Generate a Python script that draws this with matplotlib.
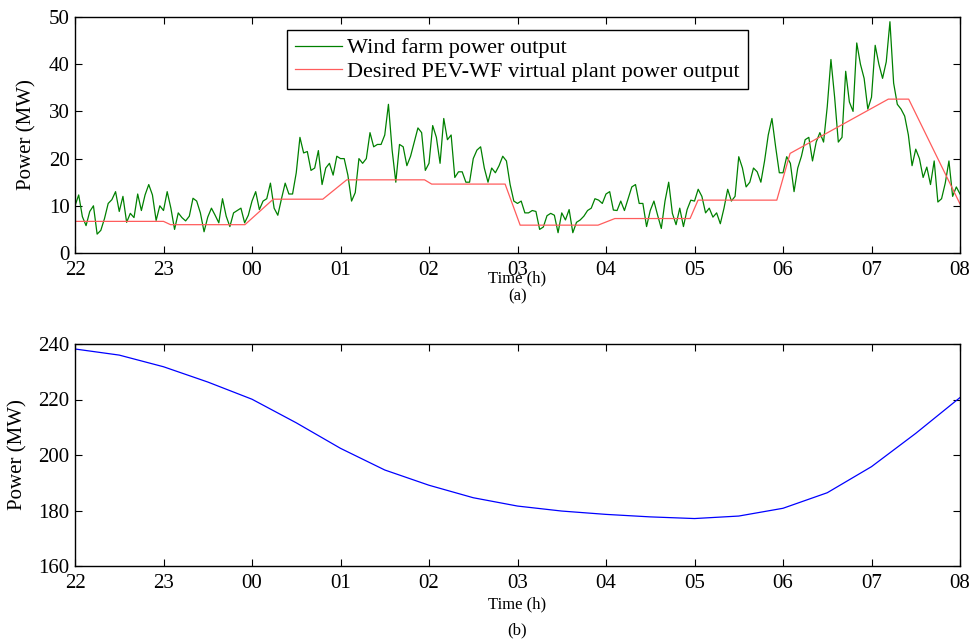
import matplotlib.pyplot as plt
import numpy as np

# wind farm output, one value every 2.5 min from 22:00 to 08:00 (MW)
wind_22 = [10.0, 12.3, 7.7, 5.8, 8.8, 10.0, 4.0, 4.8, 7.3, 10.5, 11.3, 13.0,
           8.8, 12.0, 6.5, 8.4, 7.5, 12.5, 9.0, 12.3, 14.5, 12.3, 6.9, 10.0]
wind_23 = [9.0, 13.0, 9.5, 5.0, 8.5, 7.5, 6.8, 7.8, 11.6, 11.0, 8.5, 4.5,
           7.6, 9.5, 8.0, 6.4, 11.5, 7.8, 5.6, 8.5, 9.0, 9.5, 6.4, 8.0]
wind_00 = [11.0, 13.0, 9.2, 11.0, 11.5, 14.8, 9.5, 8.0, 11.5, 14.8, 12.5, 12.5,
           17.0, 24.5, 21.2, 21.5, 17.5, 18.0, 21.7, 14.5, 18.0, 19.0, 16.5, 20.5]
wind_01 = [20.0, 20.0, 16.5, 11.0, 12.8, 20.0, 19.0, 20.0, 25.5, 22.5, 23.0, 23.0,
           25.0, 31.5, 21.8, 15.0, 23.0, 22.5, 18.5, 20.5, 23.5, 26.5, 25.5, 17.5]
wind_02 = [19.0, 27.0, 24.5, 19.0, 28.5, 24.0, 25.0, 16.0, 17.2, 17.2, 15.0, 15.0,
           20.0, 21.8, 22.5, 18.0, 15.0, 18.0, 17.0, 18.5, 20.5, 19.5, 14.5, 11.0]
wind_03 = [10.5, 11.0, 8.5, 8.5, 9.0, 8.8, 5.0, 5.5, 7.9, 8.4, 8.0, 4.3,
           8.5, 7.0, 9.2, 4.3, 6.5, 7.0, 7.8, 9.0, 9.5, 11.5, 11.2, 10.5]
wind_04 = [12.5, 13.0, 9.1, 9.0, 11.0, 9.0, 11.5, 14.0, 14.5, 10.5, 10.5, 5.6,
           9.0, 11.0, 8.0, 5.2, 11.0, 15.0, 8.4, 6.0, 9.5, 5.6, 9.2, 11.2]
wind_05 = [11.0, 13.5, 12.0, 8.5, 9.5, 7.6, 8.5, 6.2, 9.5, 13.5, 11.0, 12.0,
           20.4, 18.0, 14.0, 15.0, 18.0, 17.2, 15.0, 19.5, 25.0, 28.5, 22.5, 17.0]
wind_06 = [17.0, 20.4, 19.0, 13.0, 18.0, 20.5, 24.0, 24.5, 19.5, 23.5, 25.5, 23.5,
           31.0, 41.0, 33.0, 23.5, 24.5, 38.5, 32.0, 30.0, 44.5, 40.0, 37.0, 30.5]
wind_07 = [33.0, 44.0, 40.0, 37.0, 40.5, 49.0, 36.0, 31.5, 30.5, 29.0, 25.0, 18.5,
           22.0, 20.0, 16.0, 18.2, 14.5, 19.5, 10.8, 11.5, 14.8, 19.5, 12.0, 14.0, 12.5]

# desired PEV-WF virtual plant output, breakpoints (hours after 22:00, MW)
des_t = [0.0, 1.0, 1.08, 1.92, 2.24, 2.80, 3.07, 3.95, 4.03, 4.86, 5.03, 5.91,
         6.10, 6.95, 7.04, 7.93, 8.08, 9.19, 9.42, 10.0]
des_p = [6.7, 6.7, 6.0, 6.0, 11.4, 11.4, 15.5, 15.5, 14.6, 14.6, 5.9, 5.9,
         7.3, 7.3, 11.2, 11.2, 21.1, 32.6, 32.6, 10.4]

# lower panel, half-hourly (MW)
load_t = np.arange(0, 10.5, 0.5)
load_p = [238.2, 236.0, 231.8, 226.3, 220.1, 211.6, 202.4, 194.6, 189.1, 184.6,
          181.6, 179.8, 178.6, 177.7, 177.1, 178.0, 180.8, 186.4, 195.8, 207.8, 220.7]

hour_labels = ['22', '23', '00', '01', '02', '03', '04', '05', '06', '07', '08']

wind = wind_22 + wind_23 + wind_00 + wind_01 + wind_02 + wind_03 + wind_04 + wind_05 + wind_06 + wind_07
wind_t = np.arange(len(wind)) * 2.5 / 60

plt.rcParams['font.family'] = ['Liberation Serif', 'DejaVu Serif']
plt.rcParams['font.size'] = 15

fig = plt.figure(figsize=(9.71, 6.44), dpi=100)
ax1 = fig.add_axes([75/971, 1-253/644, 885/971, 236/644])
ax2 = fig.add_axes([75/971, 1-566/644, 885/971, 222/644])

ax1.plot(wind_t, wind, color='#008000', lw=0.9, label='Wind farm power output')
ax1.plot(des_t, des_p, color='#ff5c5c', lw=0.9, label='Desired PEV-WF virtual plant power output')
ax1.set_ylim(0, 50)
ax1.set_yticks(range(0, 51, 10))
leg = ax1.legend(loc='upper center', bbox_to_anchor=(0.5, 0.945), fancybox=False,
                 edgecolor='black', framealpha=1, fontsize=16, handlelength=2.1,
                 borderpad=0.35, labelspacing=0.12, handletextpad=0.25, borderaxespad=0)
leg.get_frame().set_linewidth(1.0)

ax2.plot(load_t, load_p, color='blue', lw=0.9)
ax2.set_ylim(160, 240)
ax2.set_yticks(range(160, 241, 20))

for ax in (ax1, ax2):
    ax.set_xlim(0, 10)
    ax.set_xticks(range(11))
    ax.set_xticklabels(hour_labels)
    ax.set_ylabel('Power (MW)')
    ax.set_xlabel('Time (h)', fontsize=12)
    ax.tick_params(direction='in', top=True, right=True, length=5, width=0.8)
    ax.tick_params(axis='x', pad=5.5)
    ax.tick_params(axis='y', pad=4)
    for s in ax.spines.values():
        s.set_linewidth(1.0)

ax1.xaxis.set_label_coords(0.5, -0.074)
ax2.xaxis.set_label_coords(0.5, -0.135)
ax1.yaxis.set_label_coords(-0.043, 0.5)
ax2.yaxis.set_label_coords(-0.054, 0.5)

fig.text((75+960)/2/971, 1-296/644, '(a)', ha='center', va='center', fontsize=12)
fig.text((75+960)/2/971, 1-630/644, '(b)', ha='center', va='center', fontsize=12)

fig.savefig('out.png', dpi=100)
